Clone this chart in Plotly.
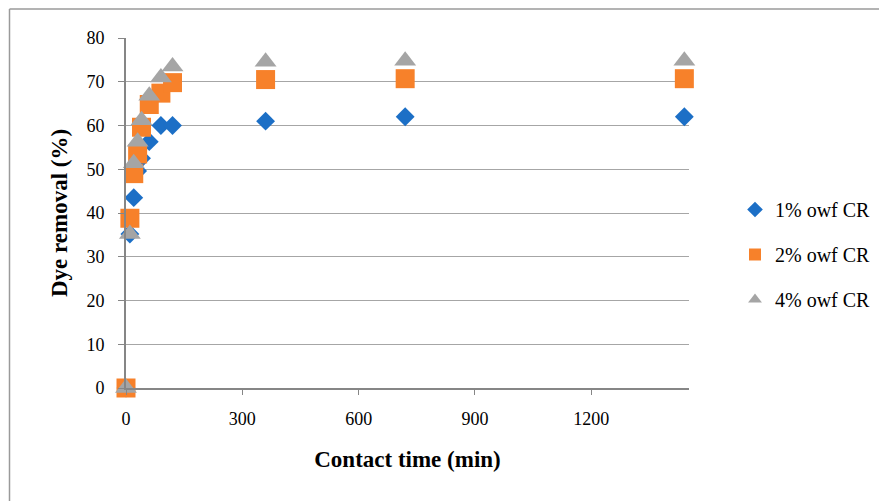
import plotly.graph_objects as go

time_min = [0, 10, 20, 30, 40, 60, 90, 120, 360, 720, 1440]
cr_1pct = [0, 35.2, 43.5, 49.6, 52.5, 56.3, 60.0, 60.0, 61.0, 62.0, 62.0]
cr_2pct = [0, 38.8, 49.0, 53.5, 59.6, 64.8, 67.4, 69.8, 70.5, 70.7, 70.7]
cr_4pct = [0, 35.2, 51.4, 56.3, 61.2, 66.8, 71.0, 73.5, 74.6, 74.8, 74.8]
series_names = ["1% owf CR", "2% owf CR", "4% owf CR"]
x_ticks = [0, 300, 600, 900, 1200]

FONT = "Palatino Linotype, Book Antiqua, Palatino, Liberation Serif, serif"

fig = go.Figure()
fig.add_trace(go.Scatter(x=time_min, y=cr_1pct, mode="markers", name=series_names[0],
                         legendgroup="a",
                         marker=dict(symbol="diamond", size=14.5, color="#1c6fc6"),
                         cliponaxis=False))
fig.add_trace(go.Scatter(x=time_min, y=cr_2pct, mode="markers", name=series_names[1],
                         legendgroup="b",
                         marker=dict(symbol="square", size=19, color="#f7812a"),
                         cliponaxis=False))
fig.add_trace(go.Scatter(x=time_min, y=cr_4pct, mode="markers", name=series_names[2],
                         legendgroup="c",
                         marker=dict(symbol="triangle-up", size=19, color="#a5a5a5"),
                         cliponaxis=False))

# page body adds an 8px offset; plot area target in screen px: x 126..689, y 38..388
OFF = 8
W, H = 887, 501
L, T = 126 - OFF, 38 - OFF
pw, ph = 563, 350
R = W - L - pw
B = H - T - ph

def px(xs):
    return (xs - 126) / pw

def py(ys):
    return (388 - ys) / ph

fig.update_layout(
    width=W, height=H,
    margin=dict(l=L, r=R, t=T, b=B),
    paper_bgcolor="white", plot_bgcolor="white",
    font=dict(family=FONT, size=18, color="#000000"),
    showlegend=True,
    legend=dict(x=px(735), y=py(190), xanchor="left", yanchor="top",
                font=dict(size=20, family=FONT), itemsizing="constant",
                tracegroupgap=16, traceorder="grouped", bgcolor="rgba(0,0,0,0)"),
    xaxis=dict(range=[0, 1452], tickvals=x_ticks, showgrid=False,
               showline=True, linecolor="#868686", linewidth=2,
               ticks="outside", ticklen=5, tickcolor="#868686", tickwidth=1,
               zeroline=False, tickfont=dict(size=18), ticklabelstandoff=8,
               title=dict(text="<b>Contact time (min)</b>", font=dict(size=23), standoff=23)),
    yaxis=dict(range=[0, 80], dtick=10, showgrid=True, gridcolor="#a6a6a6", gridwidth=1,
               showline=True, linecolor="#868686", linewidth=2,
               ticks="outside", ticklen=6, tickcolor="#868686", tickwidth=1,
               zeroline=False, tickfont=dict(size=18), ticklabelstandoff=10,
               title=dict(text="<b>Dye removal (%)</b>", font=dict(size=23), standoff=12)),
    shapes=[
        dict(type="line", xref="paper", yref="paper", x0=px(9.5), x1=px(900), y0=py(9), y1=py(9),
             line=dict(color="#9a9a9a", width=1.5)),
        dict(type="line", xref="paper", yref="paper", x0=px(9.5), x1=px(9.5), y0=py(9), y1=py(520),
             line=dict(color="#9a9a9a", width=1.5)),
    ],
)

fig.write_html("out.html")
